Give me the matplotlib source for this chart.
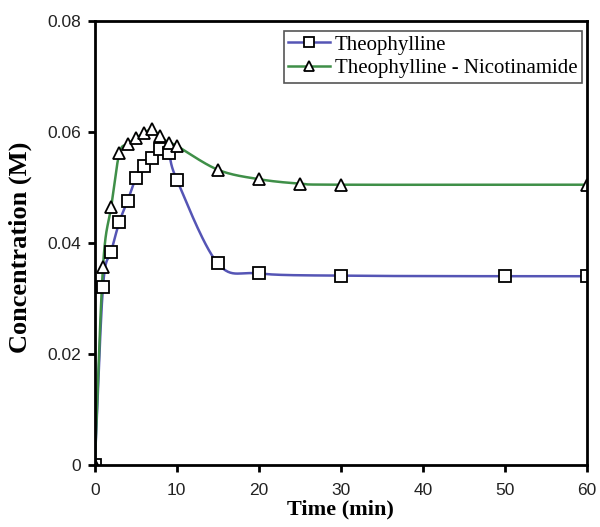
import numpy as np
import matplotlib
matplotlib.use("Agg")
import matplotlib.pyplot as plt

# data
time_theo = [0, 1, 2, 3, 4, 5, 6, 7, 8, 9, 10, 15, 20, 30, 50, 60]
conc_theo = [0, 0.0321, 0.0384, 0.0438, 0.0476, 0.0517, 0.0539, 0.0553,
             0.0569, 0.0563, 0.0514, 0.0363, 0.0345, 0.0341, 0.0340, 0.0340]
time_nic = [0, 1, 2, 3, 4, 5, 6, 7, 8, 9, 10, 15, 20, 25, 30, 60]
conc_nic = [0, 0.0357, 0.0465, 0.0562, 0.0578, 0.0589, 0.0598, 0.0605,
            0.0592, 0.0581, 0.0575, 0.0532, 0.0515, 0.0507, 0.0505, 0.0505]
xticks = [0, 10, 20, 30, 40, 50, 60]
yticks = [0, 0.02, 0.04, 0.06, 0.08]
ytick_labels = ['0', '0.02', '0.04', '0.06', '0.08']


def smooth_line(x, y, n=30):
    # catmull-rom style smoothing like the spreadsheet "smoothed line"
    x = np.asarray(x, float)
    y = np.asarray(y, float)
    px = np.concatenate([[2*x[0]-x[1]], x, [2*x[-1]-x[-2]]])
    py = np.concatenate([[2*y[0]-y[1]], y, [2*y[-1]-y[-2]]])
    xs, ys = [], []
    t = np.linspace(0, 1, n)
    for i in range(1, len(px)-2):
        p0, p1, p2, p3 = px[i-1], px[i], px[i+1], px[i+2]
        q0, q1, q2, q3 = py[i-1], py[i], py[i+1], py[i+2]
        tx1 = (p2 - p0) / 6.0
        tx2 = (p3 - p1) / 6.0
        ty1 = (q2 - q0) / 6.0
        ty2 = (q3 - q1) / 6.0
        bx = [p1, p1 + tx1, p2 - tx2, p2]
        by = [q1, q1 + ty1, q2 - ty2, q2]
        b = [(1-t)**3, 3*(1-t)**2*t, 3*(1-t)*t**2, t**3]
        xs.append(sum(bi*c for bi, c in zip(b, bx)))
        ys.append(sum(bi*c for bi, c in zip(b, by)))
    return np.concatenate(xs), np.concatenate(ys)


fig = plt.figure(figsize=(6.0, 5.27), dpi=100)
ax = fig.add_axes([0.158, 0.118, 0.820, 0.842])

blue = '#5555b5'
green = '#3f8f48'

sx, sy = smooth_line(time_theo, conc_theo)
ax.plot(sx, sy, color=blue, lw=1.8, zorder=2)
sx, sy = smooth_line(time_nic, conc_nic)
ax.plot(sx, sy, color=green, lw=1.8, zorder=2)

ax.plot(time_theo, conc_theo, ls='none', marker='s', ms=8, mfc='white',
        mec='black', mew=1.3, zorder=3)
ax.plot(time_nic, conc_nic, ls='none', marker='^', ms=8, mfc='white',
        mec='black', mew=1.3, zorder=4)

# legend handles
h1, = ax.plot([], [], color=blue, lw=1.8, marker='s', ms=6.5, mfc='white',
              mec='black', mew=1.3)
h2, = ax.plot([], [], color=green, lw=1.8, marker='^', ms=6.5, mfc='white',
              mec='black', mew=1.3)
leg = ax.legend([h1, h2], ['Theophylline', 'Theophylline - Nicotinamide'],
                loc='upper right', bbox_to_anchor=(0.99, 0.978),
                prop={'family': 'Liberation Serif', 'size': 15},
                fancybox=False, framealpha=1, edgecolor='#555555',
                handlelength=2.0, handletextpad=0.25, borderpad=0.2,
                labelspacing=0.2, borderaxespad=0)
leg.get_frame().set_linewidth(1.2)

ax.set_xlim(0, 60)
ax.set_ylim(0, 0.08)
ax.set_xticks(xticks)
ax.set_yticks(yticks)
ax.set_yticklabels(ytick_labels)
ax.tick_params(direction='out', length=5, width=2, labelsize=12.5)
ax.tick_params(axis='x', pad=8)
ax.tick_params(axis='y', pad=5)
for lab in ax.get_xticklabels() + ax.get_yticklabels():
    lab.set_family('Liberation Sans')
    lab.set_color('#222222')
for s in ax.spines.values():
    s.set_linewidth(2)
    s.set_zorder(5)

ax.set_xlabel('Time (min)', family='Liberation Serif', weight='bold',
              fontsize=16, labelpad=1)
ax.set_ylabel('Concentration (M)', family='Liberation Serif', weight='bold',
              fontsize=19)
ax.yaxis.set_label_coords(-0.128, 0.49)

fig.savefig('out.png', dpi=100)
